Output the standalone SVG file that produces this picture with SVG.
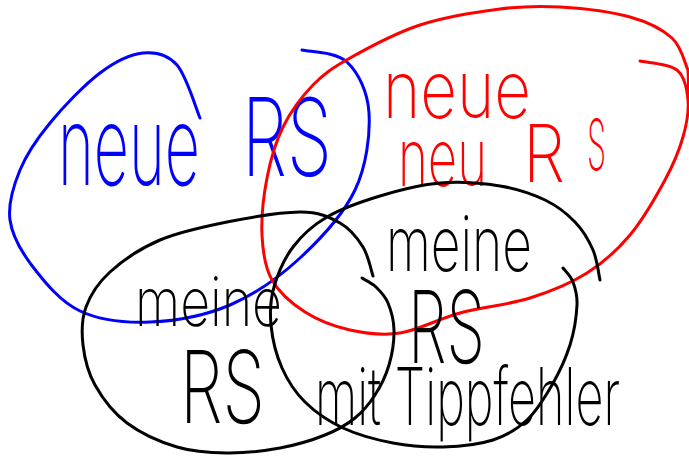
<svg xmlns="http://www.w3.org/2000/svg" width="689" height="471" viewBox="0 0 689 471">
  <style>
    .loop { fill: none; stroke-width: 3; stroke-linecap: round; stroke-linejoin: round; }
    .hand { font-family: Inter, Roboto, Lato, "DejaVu Sans", sans-serif; font-weight: 200; }
    .blue { stroke: #0000ff; }
    .red { stroke: #ff0000; }
    .black { stroke: #000000; }
    .tblue { fill: #0000ff; }
    .tred { fill: #ff0000; }
    .tblack { fill: #000000; }
  </style>
  <rect width="689" height="471" fill="#ffffff"/>

  <!-- blue set: neue RS -->
  <g id="set-neue-rs">
    <path class="loop blue" d="M302,50 C309.5,52 335.8,51.5 347,62 C358.2,72.5 367.7,91.7 369,113 C370.3,134.3 366.5,165.8 355,190 C343.5,214.2 320.8,238.8 300,258 C279.2,277.2 255,294.3 230,305 C205,315.7 175,321 150,322 C125,323 99.5,320.2 80,311 C60.5,301.8 44.7,282.2 33,267 C21.3,251.8 12.2,236.2 10,220 C7.8,203.8 13.3,186.2 20,170 C26.7,153.8 36.7,139.2 50,123 C63.3,106.8 84.5,84.7 100,73 C115.5,61.3 130.2,54.3 143,53 C155.8,51.7 167.5,54.2 177,65 C186.5,75.8 196.2,109.2 200,118"/>
    <text class="hand tblue" x="58" y="185" font-size="110" textLength="142" lengthAdjust="spacingAndGlyphs">neue</text>
    <text class="hand tblue" x="242" y="176" font-size="108" textLength="90" lengthAdjust="spacingAndGlyphs">RS</text>
  </g>

  <!-- red set: neue neu RS -->
  <g id="set-neue-neu-rs">
    <path class="loop red" d="M640,61 C646.2,62.5 669,63.5 677,70 C685,76.5 687,88.8 688,100 C689,111.2 686.8,123.7 683,137 C679.2,150.3 673.8,163.7 665,180 C656.2,196.3 643,219.5 630,235 C617,250.5 603.7,262.5 587,273 C570.3,283.5 551.2,291.3 530,298 C508.8,304.7 481.7,307.2 460,313 C438.3,318.8 418.3,330.2 400,333 C381.7,335.8 365.8,333.5 350,330 C334.2,326.5 318,320.3 305,312 C292,303.7 279.2,292.8 272,280 C264.8,267.2 262.8,252 262,235 C261.2,218 263.5,196 267,178 C270.5,160 275.3,142.5 283,127 C290.7,111.5 301.8,96.5 313,85 C324.2,73.5 332.2,68 350,58 C367.8,48 395,33.2 420,25 C445,16.8 476.7,12 500,9 C523.3,6 538.3,5.7 560,7 C581.7,8.3 611.3,11.8 630,17 C648.7,22.2 662.3,29.2 672,38 C681.7,46.8 685.3,64.7 688,70 L689,98"/>
    <text class="hand tred" x="383" y="118" font-size="80" textLength="148" lengthAdjust="spacingAndGlyphs">neue</text>
    <text class="hand tred" x="398" y="186" font-size="80" textLength="89" lengthAdjust="spacingAndGlyphs">neu</text>
    <text class="hand tred" x="523" y="182" font-size="80" textLength="42" lengthAdjust="spacingAndGlyphs">R</text>
    <text class="hand tred" x="587" y="170" font-size="70" textLength="19" lengthAdjust="spacingAndGlyphs">S</text>
  </g>

  <!-- black set, left: meine RS -->
  <g id="set-meine-rs">
    <path class="loop black" d="M373,276 C371.3,271.2 368.5,255.8 363,247 C357.5,238.2 350.5,228.8 340,223 C329.5,217.2 318.8,211.8 300,212 C281.2,212.2 250.3,217.3 227,222 C203.7,226.7 179.5,231.7 160,240 C140.5,248.3 122.3,260.8 110,272 C97.7,283.2 90.5,294.8 86,307 C81.5,319.2 81.5,332 83,345 C84.5,358 87.7,372 95,385 C102.3,398 113.3,412.7 127,423 C140.7,433.3 160.3,442 177,447 C193.7,452 209.8,452.8 227,453 C244.2,453.2 263.7,451 280,448 C296.3,445 312.5,440 325,435 C337.5,430 346.7,424.7 355,418 C363.3,411.3 369.3,403.8 375,395 C380.7,386.2 385.8,375.8 389,365 C392.2,354.2 394.2,340.3 394,330 C393.8,319.7 391,310.2 388,303 C385,295.8 380.3,291.2 376,287 C371.7,282.8 364.3,279.5 362,278"/>
    <text class="hand tblack" x="135" y="326" font-size="68" textLength="147" lengthAdjust="spacingAndGlyphs">meine</text>
    <text class="hand tblack" x="180" y="423" font-size="100" textLength="85" lengthAdjust="spacingAndGlyphs">RS</text>
  </g>

  <!-- black set, right: meine RS mit Tippfehler -->
  <g id="set-meine-rs-mit-tippfehler">
    <path class="loop black" d="M600,280 C598.8,275 597.2,259.7 593,250 C588.8,240.3 583,230.3 575,222 C567,213.7 557.5,206 545,200 C532.5,194 517.5,188.8 500,186 C482.5,183.2 460,181.3 440,183 C420,184.7 398.8,190.3 380,196 C361.2,201.7 341.5,208.5 327,217 C312.5,225.5 301.8,235.3 293,247 C284.2,258.7 277.7,274 274,287 C270.3,300 269.7,311.5 271,325 C272.3,338.5 276.3,355.2 282,368 C287.7,380.8 294.8,392 305,402 C315.2,412 328.3,421.2 343,428 C357.7,434.8 376.3,439.8 393,443 C409.7,446.2 426.3,447.5 443,447 C459.7,446.5 479,444.5 493,440 C507,435.5 517.2,429.2 527,420 C536.8,410.8 544.8,397.5 552,385 C559.2,372.5 565.8,358.3 570,345 C574.2,331.7 576.5,315.5 577,305 C577.5,294.5 575.3,288.2 573,282 C570.7,275.8 564.7,270.3 563,268"/>
    <text class="hand tblack" x="386" y="271" font-size="77" textLength="146" lengthAdjust="spacingAndGlyphs">meine</text>
    <text class="hand tblack" x="408" y="363" font-size="100" textLength="77" lengthAdjust="spacingAndGlyphs">RS</text>
    <text class="hand tblack" x="315" y="425" font-size="80" textLength="305" lengthAdjust="spacingAndGlyphs">mit Tippfehler</text>
  </g>
</svg>
